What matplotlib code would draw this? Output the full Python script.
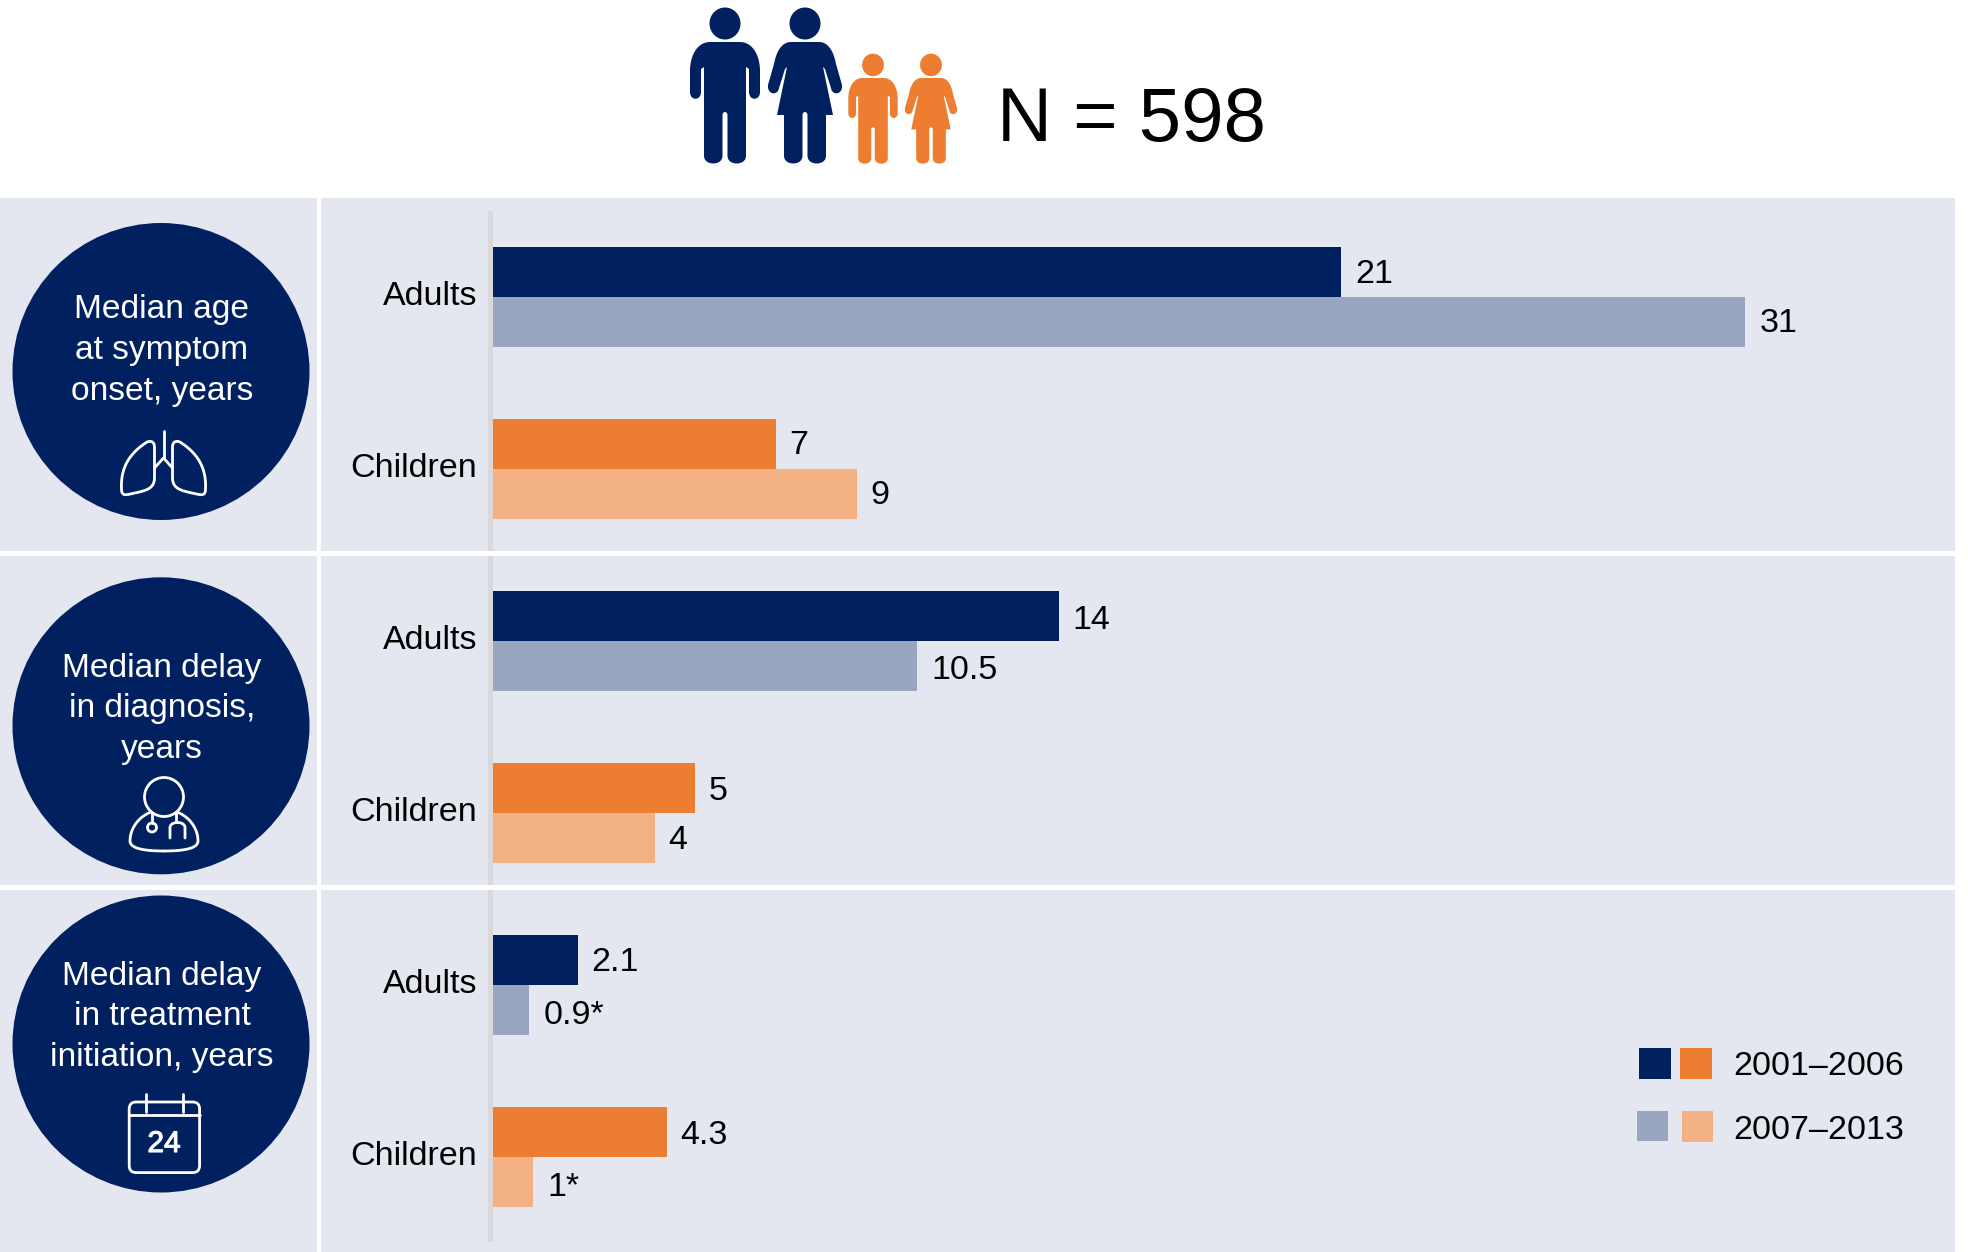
#!/usr/bin/env python
# -*- encoding: utf-8 -*-

import matplotlib
matplotlib.use('Agg')
import matplotlib.pyplot as plt
import matplotlib.patheffects as pe
from matplotlib.patches import Circle, Ellipse, FancyBboxPatch, Polygon, Rectangle
from matplotlib.transforms import ScaledTranslation

plt.rcParams['font.family'] = ['Liberation Sans', 'DejaVu Sans']

# data
groups = ['Adults', 'Children']
age_onset = [21, 31, 7, 9]
delay_diagnosis = [14, 10.5, 5, 4]
delay_treatment = [2.1, 0.9, 4.3, 1]
age_labels = ['21', '31', '7', '9']
diagnosis_labels = ['14', '10.5', '5', '4']
treatment_labels = ['2.1', '0.9*', '4.3', '1*']
legend_labels = ['2001–2006', '2007–2013']
circle_age = ['Median age', 'at symptom', 'onset, years']
circle_diagnosis = ['Median delay', 'in diagnosis,', 'years']
circle_treatment = ['Median delay', 'in treatment', 'initiation, years']

NAVY = '#002060'
ORANGE = '#ED7D31'
LIGHT_BLUE = '#99A6C0'
LIGHT_ORANGE = '#F4B183'
PANEL = '#E4E7EF'
AXIS_GREY = '#D9D9DB'
W, H = 1968, 1252
PX_PER_UNIT = 40.4
X0 = 493
BAR_PX = 49.6
FONT = 24.5
CIRCLE_FONT = 24.1
LINE = 2.0


def bez(p0, p1, p2, p3, n=14):
    pts = []
    for k in range(n + 1):
        t = k / n
        u = 1 - t
        pts.append((u**3*p0[0] + 3*u*u*t*p1[0] + 3*u*t*t*p2[0] + t**3*p3[0],
                    u**3*p0[1] + 3*u*u*t*p1[1] + 3*u*t*t*p2[1] + t**3*p3[1]))
    return pts


def leg_half():
    '''right leg, from the outer side round the foot to the gap'''
    pts = [(21, 155)]
    pts += bez((21, 155), (21, 165), (2.5, 165), (2.5, 155))
    pts += [(2.5, 114)]
    pts += bez((2.5, 114), (2.5, 111), (0, 111), (0, 111), 4)
    return pts


def man_half():
    pts = [(0, 41), (15, 41)]
    pts += bez((15, 41), (28, 41), (35, 55), (35, 70))
    pts += [(35, 91)]
    pts += bez((35, 91), (35, 100), (24, 100), (24, 91))
    pts += [(24, 68), (21, 66)]
    return pts + leg_half()


def woman_half():
    pts = [(0, 41), (14, 41)]
    pts += bez((14, 41), (24, 41), (29, 52), (31, 63))
    pts += [(37, 84)]
    pts += bez((37, 84), (38, 94), (27, 95), (26, 87))
    pts += [(20, 68), (18, 66), (28, 114), (21, 114)]
    return pts + leg_half()


def draw_person(ax, cx, half, scale, color):
    pts = half()
    pts = pts + [(-x, y) for x, y in reversed(pts)]
    # children are scaled from the feet
    pts = [(cx + x * scale, 164 - (163 - y) * scale) for x, y in pts]
    ax.add_patch(Polygon(pts, closed=True, fc=color, ec='none'))
    ax.add_patch(Ellipse((cx, 164 - (163 - 22.5) * scale), 31 * scale, 32 * scale, fc=color, ec='none'))


def white_line(ax, pts, lw=LINE):
    xs, ys = zip(*pts)
    ax.plot(xs, ys, color='white', lw=lw, solid_capstyle='round', solid_joinstyle='round')


def draw_lungs(ax, cx=163.5):
    white_line(ax, [(cx, 431), (cx, 458)])
    white_line(ax, [(cx - 9, 468), (cx, 458), (cx + 9, 468)])
    for s in (-1, 1):
        pts = [(cx + s * 9, 468), (cx + s * 9, 447)]
        pts += bez((cx + s * 9, 447), (cx + s * 9, 441), (cx + s * 14, 440), (cx + s * 18, 443))
        pts += bez((cx + s * 18, 443), (cx + s * 36, 455), (cx + s * 43, 470), (cx + s * 42, 489))
        pts += bez((cx + s * 42, 489), (cx + s * 42, 496), (cx + s * 38, 495), (cx + s * 33, 494))
        pts += bez((cx + s * 33, 494), (cx + s * 20, 491), (cx + s * 9, 490), (cx + s * 9, 478))
        pts += [(cx + s * 9, 468)]
        white_line(ax, pts)


def draw_doctor(ax, cx=164):
    ax.add_patch(Circle((cx, 797), 19.5, fc='none', ec='white', lw=LINE))
    for s in (-1, 1):
        pts = bez((cx + s * 13, 812), (cx + s * 26, 817), (cx + s * 34, 829), (cx + s * 34, 841))
        pts += bez((cx + s * 34, 841), (cx + s * 34, 849), (cx + s * 18, 851), (cx, 851))
        white_line(ax, pts)
    white_line(ax, [(152, 813), (152, 823)])
    ax.add_patch(Circle((152, 827.5), 4.5, fc='none', ec='white', lw=LINE))
    white_line(ax, [(176, 813), (176, 822)])
    pts = [(170, 838)] + bez((170, 827), (171, 821), (184, 821), (185, 827)) + [(185, 838)]
    white_line(ax, pts)


def draw_calendar(ax):
    ax.add_patch(FancyBboxPatch((132.7, 1105.5), 63.4, 63.6, boxstyle='round,pad=3.5,rounding_size=7',
                                fc='none', ec='white', lw=LINE))
    white_line(ax, [(129.5, 1115), (199.5, 1115)])
    white_line(ax, [(145.7, 1094), (145.7, 1112)])
    white_line(ax, [(183, 1094), (183, 1112)])
    t = ax.text(164, 1152, '24', color='white', fontsize=21.5, ha='center', va='baseline')
    t.set_path_effects([pe.withStroke(linewidth=0.8, foreground='white')])


def draw_bars(fig, top, bottom, adult_y, child_y, values, labels, label_dy):
    '''one row of the chart, placed by its pixel box'''
    ax = fig.add_axes([X0 / W, 1 - bottom / H, (W - 13 - X0) / W, (bottom - top) / H])
    ax.patch.set_visible(False)
    step = child_y - adult_y
    h = BAR_PX / step
    ax.set_xlim(0, (W - 13 - X0) / PX_PER_UNIT)
    ax.set_ylim((bottom - adult_y) / step, (top - adult_y) / step)
    ypos = [-h / 2, h / 2, 1 - h / 2, 1 + h / 2]
    colors = [NAVY, LIGHT_BLUE, ORANGE, LIGHT_ORANGE]
    ax.barh(ypos, values, height=h, color=colors, linewidth=0)
    for y, v, s, dy in zip(ypos, values, labels, label_dy):
        ax.annotate(s, (v, y), xytext=(10, -0.5 - dy * 0.72), textcoords='offset points',
                    va='center', ha='left', fontsize=FONT, color='black')
    ax.set_xticks([])
    ax.set_yticks([0, 1])
    ax.set_yticklabels(groups, fontsize=FONT)
    ax.tick_params(axis='y', length=0, pad=11.2)
    shift = ScaledTranslation(0, 3.7 / 100, fig.dpi_scale_trans)
    for lbl in ax.get_yticklabels():
        lbl.set_transform(lbl.get_transform() + shift)
    for sp in ax.spines.values():
        sp.set_visible(False)
    return ax


fig = plt.figure(figsize=(W / 100, H / 100), dpi=100, facecolor='white')
bg = fig.add_axes([0, 0, 1, 1])
bg.set_xlim(0, W)
bg.set_ylim(H, 0)
bg.axis('off')

# panels
rows = [(198, 551), (555.7, 885), (890, H)]
for top, bottom in rows:
    bg.add_patch(Rectangle((0, top), 317, bottom - top, fc=PANEL, ec='none'))
    bg.add_patch(Rectangle((321, top), 1955 - 321, bottom - top, fc=PANEL, ec='none'))
    y0 = max(top, 211)
    y1 = min(bottom, 1242)
    bg.add_patch(Rectangle((488, y0), 5, y1 - y0, fc=AXIS_GREY, ec='none'))

# header
draw_person(bg, 725, man_half, 1.0, NAVY)
draw_person(bg, 805, woman_half, 1.0, NAVY)
draw_person(bg, 873, man_half, 0.705, ORANGE)
draw_person(bg, 931, woman_half, 0.705, ORANGE)
bg.text(997, 141, 'N = 598', fontsize=54.8, color='black', ha='left', va='baseline')

# circles with their text
circles = [(371.5, circle_age, 318), (725.8, circle_diagnosis, 676.5), (1044, circle_treatment, 984.5)]
for cy, lines, base in circles:
    bg.add_patch(Circle((161, cy), 148.5, fc=NAVY, ec='none'))
    for i, line in enumerate(lines):
        bg.text(162, base + i * 40.8, line, color='white', fontsize=CIRCLE_FONT, ha='center', va='baseline')
draw_lungs(bg)
draw_doctor(bg)
draw_calendar(bg)

# bars
draw_bars(fig, 198, 551, 297, 469, age_onset, age_labels, [1.3, 1.3, 1, 1.3])
draw_bars(fig, 555.7, 885, 641, 813, delay_diagnosis, diagnosis_labels, [3.8, 3.8, 2.5, 2.5])
draw_bars(fig, 890, H, 985, 1157, delay_treatment, treatment_labels, [1.3, 5, 2.5, 5])

# legend
bg.add_patch(Rectangle((1639, 1048), 31.7, 31, fc=NAVY, ec='none'))
bg.add_patch(Rectangle((1680, 1048), 32, 31, fc=ORANGE, ec='none'))
bg.add_patch(Rectangle((1636.7, 1110.7), 31, 30.6, fc=LIGHT_BLUE, ec='none'))
bg.add_patch(Rectangle((1681.7, 1111), 31.3, 31, fc=LIGHT_ORANGE, ec='none'))
bg.text(1733, 1075, legend_labels[0], fontsize=FONT, color='black', ha='left', va='baseline')
bg.text(1733, 1139, legend_labels[1], fontsize=FONT, color='black', ha='left', va='baseline')

fig.savefig('out.png', dpi=100)
